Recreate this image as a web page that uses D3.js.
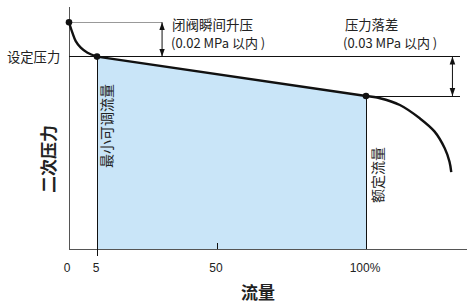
<!DOCTYPE html>
<html><head><meta charset="utf-8">
<script src="https://cdn.jsdelivr.net/npm/d3@7"></script>
<style>
html,body{margin:0;padding:0;background:#fff;}
svg{display:block;font-family:"Noto Sans CJK SC","Noto Sans",sans-serif;}
line.thin{shape-rendering:crispEdges;}
</style></head>
<body>
<svg id="c" width="471" height="307"></svg>
<script>
// ---- data ----
const flowStart = [0, 0.6, 1.2, 2.1, 3.3, 5];          // closing surge curve (flow %)
const pressStart = [93.7, 89.4, 85.9, 83.2, 81.1, 79.5];
const flowMid = [5, 100];                               // regulated range
const pressMid = [79.5, 63.2];
const flowEnd = [100, 104.7, 111.4, 118.1, 123.1, 126.5, 128.1, 128.7];  // beyond rated flow
const pressEnd = [63.2, 62.3, 59.5, 54.0, 48.5, 41.6, 36.1, 31.8];
const dotFlow = [0, 5, 100];
const dotPress = [93.7, 79.5, 63.2];
const tickValues = [0, 5, 50, 100];
const tickLabels = ["0", "5", "50", "100%"];
const setPressure = 79.5;
const surgeTop = 93.7;
const ratedPressure = 63.2;

const svg = d3.select("#c");
const x = d3.scaleLinear().domain([0, 5, 50, 100, 134]).range([69, 97, 217, 366, 467]);
const y = d3.scaleLinear().domain([0, 100]).range([249, 7]);

const zip = (a, b) => a.map((v, i) => [v, b[i]]);
const ln = (x1, x2, y1, y2, color) => svg.append("line").attr("class", "thin")
  .attr("x1", x1).attr("x2", x2).attr("y1", y1).attr("y2", y2)
  .attr("stroke", color).attr("stroke-width", 1);

// fill area
const area = d3.area().x(d => x(d[0])).y0(y(0)).y1(d => y(d[1]));
svg.append("path").datum(zip(flowMid, pressMid)).attr("d", area).attr("fill", "#c9e5f8");

// axes
ln(x(0), x(0), y(100), y(0), "#555");
ln(x(0), x(134), y(0), y(0), "#555");

// reference lines
ln(x(0), x(29.4), y(surgeTop), y(surgeTop), "#999");
ln(x(0), x(131.5), y(setPressure), y(setPressure), "#111");
ln(x(100), x(131.5), y(ratedPressure), y(ratedPressure), "#111");

// verticals
ln(x(5), x(5), y(setPressure), y(0) + 7, "#111");
ln(x(100), x(100), y(ratedPressure), y(0), "#111");
ln(x(50), x(50), y(0) - 6, y(0), "#111");

// arrows
const defs = svg.append("defs");
defs.append("marker").attr("id", "ah").attr("viewBox", "0 0 10 10").attr("refX", 10).attr("refY", 5)
  .attr("markerWidth", 8).attr("markerHeight", 8).attr("markerUnits", "userSpaceOnUse").attr("orient", "auto-start-reverse")
  .append("path").attr("d", "M0,1.5 L10,5 L0,8.5 Z").attr("fill", "#111");
function dblArrow(fx, p1, p2) {
  svg.append("line").attr("x1", x(fx)).attr("x2", x(fx)).attr("y1", y(p1)).attr("y2", y(p2))
    .attr("stroke", "#111").attr("stroke-width", 1)
    .attr("marker-start", "url(#ah)").attr("marker-end", "url(#ah)");
}
dblArrow(29.4, surgeTop, setPressure);
dblArrow(129.1, setPressure, ratedPressure);

// curve
const lineC = d3.line().x(d => x(d[0])).y(d => y(d[1])).curve(d3.curveCatmullRom.alpha(0.5));
const lineL = d3.line().x(d => x(d[0])).y(d => y(d[1]));
svg.append("path").datum(zip(flowStart, pressStart)).attr("d", lineC)
  .attr("fill", "none").attr("stroke", "#111").attr("stroke-width", 2.4);
svg.append("path").datum(zip(flowMid, pressMid)).attr("d", lineL)
  .attr("fill", "none").attr("stroke", "#111").attr("stroke-width", 2.4);
svg.append("path").datum(zip(flowEnd, pressEnd)).attr("d", lineC)
  .attr("fill", "none").attr("stroke", "#111").attr("stroke-width", 2.4);

// dots
svg.selectAll("circle.d").data(zip(dotFlow, dotPress)).enter().append("circle")
  .attr("cx", d => x(d[0])).attr("cy", d => y(d[1])).attr("r", 3.3).attr("fill", "#111");

// tick labels
svg.selectAll("text.t").data(tickValues).enter().append("text")
  .attr("x", d => x(d) - (d === 0 ? 2 : 1)).attr("y", 272).attr("text-anchor", "middle")
  .attr("font-size", 12).attr("fill", "#222").attr("font-family", "'Liberation Sans',Arial,sans-serif")
  .text((d, i) => tickLabels[i]);

// text labels
const txt = (s, tx, ty, opt = {}) => svg.append("text").attr("x", tx).attr("y", ty)
  .attr("font-size", opt.size || 12).attr("font-weight", opt.weight || "normal")
  .attr("text-anchor", opt.anchor || "start").attr("fill", "#222")
  .attr("transform", opt.rot ? `rotate(${opt.rot},${tx},${ty})` : null).text(s);

txt("设定压力", 7, y(setPressure) + 5, {size: 13.3});
txt("闭阀瞬间升压", 172, 30, {size: 13.5});
txt("(0.02 MPa 以内 )", 171, 48, {size: 13});
txt("压力落差", 345, 30, {size: 13.3});
txt("(0.03 MPa 以内 )", 343, 48, {size: 13});
txt("二次压力", 55, 159, {size: 17, weight: "bold", anchor: "middle", rot: -90});
txt("最小可调流量", 112, 126, {size: 14, anchor: "middle", rot: -90});
txt("额定流量", 383, 175, {size: 14, anchor: "middle", rot: -90});
txt("流量", 258, 299, {size: 17, weight: "bold", anchor: "middle"});
</script>
</body></html>
